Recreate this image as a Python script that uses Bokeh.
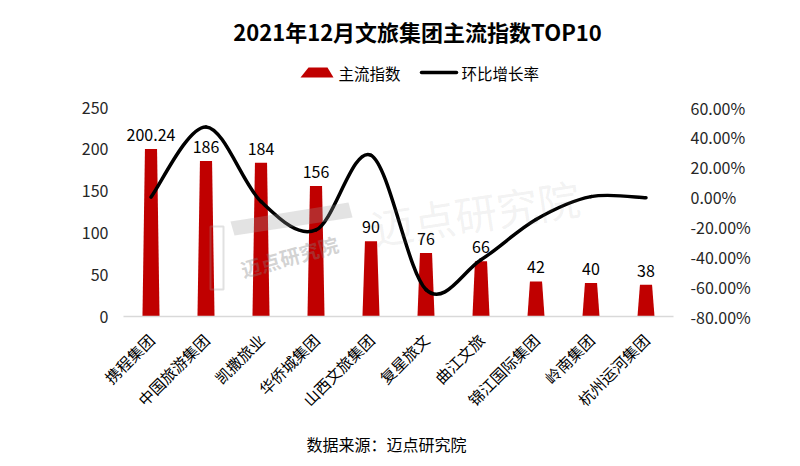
import math
from bokeh.plotting import figure
from bokeh.layouts import column
from bokeh.models import (Range1d, LinearAxis, FixedTicker, NumeralTickFormatter,
                          ColumnDataSource, Label, PolyAnnotation)
from bokeh.core.properties import value
from bokeh.embed import file_html
from bokeh.resources import INLINE

# ---------------- data ----------------
categories = ["携程集团", "中国旅游集团", "凯撒旅业", "华侨城集团", "山西文旅集团",
              "复星旅文", "曲江文旅", "锦江国际集团", "岭南集团", "杭州运河集团"]
index_values = [200.24, 186, 184, 156, 90, 76, 66, 42, 40, 38]
growth_rates = [0.0, 0.47, -0.03, -0.22, 0.28, -0.62, -0.42, -0.15, 0.003, -0.005]
left_ticks = [0, 50, 100, 150, 200, 250]
right_ticks = [-0.8, -0.6, -0.4, -0.2, 0.0, 0.2, 0.4, 0.6]
title_text = "2021年12月文旅集团主流指数TOP10"
legend_bar = "主流指数"
legend_line = "环比增长率"
source_text = "数据来源：迈点研究院"
watermark = "迈点研究院"

FONT = "Noto Sans CJK SC"
BAR_RED = "#C00000"
W = 800
HEADER_H = 92
FOOTER_H = 46
MAIN_H = 466 - HEADER_H - FOOTER_H
FRAME_L, FRAME_R = 123, 673          # page x of the plotting frame


def blank(h):
    # frames are aligned with the main chart inside the column, so map the
    # frame to page pixel coordinates
    f = figure(width=W, height=h, output_backend="svg", toolbar_location=None,
               x_range=Range1d(FRAME_L, FRAME_R), y_range=Range1d(0, h), title=None,
               x_axis_type=None, y_axis_type=None,
               min_border_left=FRAME_L, min_border_right=W - FRAME_R,
               min_border_top=0, min_border_bottom=0,
               outline_line_color=None, background_fill_color="white",
               border_fill_color="white")
    f.grid.visible = False
    return f


# ---------------- header: title + legend ----------------
hdr = blank(HEADER_H)
hdr.text(x=[417], y=[HEADER_H - 30], text=[title_text], text_align="center",
         text_baseline="middle", text_font=value(FONT), text_font_size="22px",
         text_font_style="bold", text_color="#000000")
leg_y = HEADER_H - 72
hdr.patch(x=[300, 308, 327, 333], y=[leg_y - 5, leg_y + 5, leg_y + 5, leg_y - 5],
          fill_color=BAR_RED, line_color=None)
hdr.text(x=[338], y=[leg_y], text=[legend_bar], text_align="left",
         text_baseline="middle", text_font=value(FONT), text_font_size="15.5px",
         text_color="#000000")
hdr.segment(x0=[421], y0=[leg_y], x1=[456], y1=[leg_y], line_color="black",
            line_width=3.5, line_cap="round")
hdr.text(x=[461], y=[leg_y], text=[legend_line], text_align="left",
         text_baseline="middle", text_font=value(FONT), text_font_size="15.5px",
         text_color="#000000")

# ---------------- main chart ----------------
p = figure(width=W, height=MAIN_H, output_backend="svg", toolbar_location=None,
           title=None,
           x_range=Range1d(-0.5, len(categories) - 0.5), y_range=Range1d(0, 250),
           min_border_left=FRAME_L, min_border_right=W - FRAME_R,
           min_border_top=107 - HEADER_H,
           min_border_bottom=MAIN_H - (107 - HEADER_H) - 210,
           background_fill_color="white", border_fill_color="white",
           outline_line_color=None)
p.grid.visible = False
p.extra_y_ranges = {"pct": Range1d(-0.8, 0.6)}

xa = p.xaxis[0]
xa.ticker = FixedTicker(ticks=list(range(len(categories))))
xa.major_label_overrides = {i: c for i, c in enumerate(categories)}
xa.major_label_orientation = math.pi / 4
xa.axis_line_color = "#D9D9D9"
xa.axis_line_width = 1.5
xa.major_tick_line_color = None
xa.minor_tick_line_color = None
xa.major_tick_out = 0
xa.major_label_standoff = 20
xa.major_label_text_font = FONT
xa.major_label_text_font_size = "15.5px"
xa.major_label_text_color = "#000000"

ya = p.yaxis[0]
ya.ticker = FixedTicker(ticks=left_ticks)
ya.axis_line_color = None
ya.major_tick_line_color = None
ya.minor_tick_line_color = None
ya.major_tick_out = 0
ya.major_label_standoff = 15
ya.major_label_text_font = FONT
ya.major_label_text_font_size = "16px"
ya.major_label_text_color = "#262626"

ra = LinearAxis(y_range_name="pct", ticker=FixedTicker(ticks=right_ticks),
                formatter=NumeralTickFormatter(format="0.00%"))
ra.axis_line_color = None
ra.major_tick_line_color = None
ra.minor_tick_line_color = None
ra.major_tick_out = 0
ra.major_label_standoff = 17
ra.major_label_text_font = FONT
ra.major_label_text_font_size = "16px"
ra.major_label_text_color = "#262626"
p.add_layout(ra, "right")

# bars (trapezoids)
top_half, bot_half = 0.11, 0.155
bar_xs = [[i - bot_half, i - top_half, i + top_half, i + bot_half]
          for i in range(len(categories))]
bar_ys = [[0, v, v, 0] for v in index_values]
p.patches(xs=bar_xs, ys=bar_ys, fill_color=BAR_RED, line_color=None)

# data labels
lbl = ["{:g}".format(v) for v in index_values]
src = ColumnDataSource(dict(x=list(range(len(categories))), y=index_values, t=lbl))
p.text(x="x", y="y", text="t", source=src, text_align="center",
       text_baseline="alphabetic", y_offset=-14, text_font=value(FONT),
       text_font_size="16px", text_color="#000000")

# watermark
p.add_layout(PolyAnnotation(xs=[107, 225, 229, 111], ys=[95, 114, 99, 81],
                            xs_units="screen", ys_units="screen",
                            fill_color="#9a9a9a", fill_alpha=0.28, line_color=None))
p.add_layout(PolyAnnotation(xs=[87, 100, 100, 87], ys=[90, 90, 27, 27],
                            xs_units="screen", ys_units="screen",
                            fill_color=None, line_color="#9a9a9a", line_alpha=0.3,
                            line_width=2))
p.add_layout(Label(x=166, y=60, x_units="screen", y_units="screen", text=watermark,
                   angle=0.27, text_align="center", text_baseline="middle",
                   text_font=FONT, text_font_size="20px", text_font_style="bold",
                   text_color="#808080", text_alpha=0.35))
p.add_layout(Label(x=352, y=105, x_units="screen", y_units="screen", text=watermark,
                   angle=0.15, text_align="center", text_baseline="middle",
                   text_font=FONT, text_font_size="42px",
                   text_color="#808080", text_alpha=0.11))

# smooth line (Catmull-Rom as Bezier segments)
n = len(growth_rates)
pts = [(float(i), growth_rates[i]) for i in range(n)]
x0, y0, x1, y1, cx0, cy0, cx1, cy1 = ([] for _ in range(8))
for i in range(n - 1):
    pm = pts[i - 1] if i > 0 else pts[i]
    pa = pts[i]
    pb = pts[i + 1]
    pn = pts[i + 2] if i + 2 < n else pts[i + 1]
    x0.append(pa[0]); y0.append(pa[1]); x1.append(pb[0]); y1.append(pb[1])
    cx0.append(pa[0] + (pb[0] - pm[0]) / 6); cy0.append(pa[1] + (pb[1] - pm[1]) / 6)
    cx1.append(pb[0] - (pn[0] - pa[0]) / 6); cy1.append(pb[1] - (pn[1] - pa[1]) / 6)
p.bezier(x0=x0, y0=y0, x1=x1, y1=y1, cx0=cx0, cy0=cy0, cx1=cx1, cy1=cy1,
         y_range_name="pct", line_color="black", line_width=3.5, line_cap="round")

# ---------------- footer: source ----------------
ftr = blank(FOOTER_H)
ftr.text(x=[386], y=[466 - 443], text=[source_text], text_align="center",
         text_baseline="middle", text_font=value(FONT), text_font_size="16px",
         text_color="#000000")

layout = column(hdr, p, ftr, spacing=0)
open("out.html", "w").write(file_html(layout, INLINE))
